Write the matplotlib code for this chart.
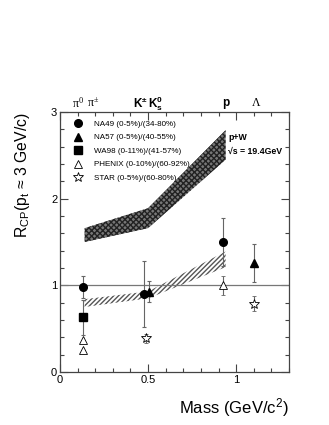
import matplotlib
matplotlib.use("Agg")
import matplotlib.pyplot as plt
from matplotlib.lines import Line2D
from matplotlib.ticker import MultipleLocator

plt.rcParams['font.family'] = ['Liberation Sans', 'DejaVu Sans']
plt.rcParams['mathtext.fontset'] = 'custom'
plt.rcParams['mathtext.rm'] = 'Liberation Sans'
plt.rcParams['mathtext.bf'] = 'Liberation Sans:bold'
plt.rcParams['mathtext.it'] = 'Liberation Sans:italic'
plt.rcParams['mathtext.tt'] = 'Liberation Serif'

# data points: mass, R_CP, error
na49_x = [0.132, 0.475, 0.928]
na49_y = [0.98, 0.90, 1.50]
na49_e = [0.13, 0.38, 0.28]

na57_x = [0.503, 1.10]
na57_y = [0.925, 1.26]
na57_e = [0.12, 0.22]

wa98_x = [0.132]
wa98_y = [0.63]
wa98_e = [0.20]

phenix_x = [0.132, 0.132, 0.928]
phenix_y = [0.37, 0.25, 1.00]
phenix_e = [0.0, 0.0, 0.11]

star_x = [0.486, 1.10]
star_y = [0.39, 0.79]
star_e = [0.05, 0.09]

# bands
pw_x = [0.14, 0.50, 0.94]
pw_lo = [1.50, 1.66, 2.45]
pw_hi = [1.66, 1.89, 2.79]

aa_x = [0.14, 0.50, 0.94]
aa_lo = [0.75, 0.85, 1.21]
aa_hi = [0.84, 0.93, 1.39]

labels = ['NA49 (0-5%)/(34-80%)', 'NA57 (0-5%)/(40-55%)', 'WA98 (0-11%)/(41-57%)',
          'PHENIX (0-10%)/(60-92%)', 'STAR (0-5%)/(60-80%)']

fig = plt.figure(figsize=(3.29, 4.25), dpi=100)
ax = fig.add_axes([0.1824, 0.1247, 0.6960, 0.6118])

ax.fill_between(pw_x, pw_lo, pw_hi, facecolor='#777777', edgecolor='#222222',
                hatch='xxxxxx', linewidth=0)
ax.fill_between(aa_x, aa_lo, aa_hi, facecolor='none', edgecolor='#555555',
                hatch='///////', linewidth=0)
ax.axhline(1.0, color='#777777', lw=0.9)

ekw = dict(ecolor='#666666', elinewidth=0.8, capsize=1.5, capthick=0.8, linestyle='none')
ax.errorbar(wa98_x, wa98_y, yerr=wa98_e, fmt='s', color='black', ms=5.5, **ekw)
ax.errorbar(na49_x, na49_y, yerr=na49_e, fmt='o', color='black', ms=5.5, **ekw)
ax.errorbar(na57_x, na57_y, yerr=na57_e, fmt='^', color='black', ms=5.5, **ekw)
ax.errorbar(phenix_x, phenix_y, yerr=phenix_e, fmt='^', mfc='white', mec='black',
            mew=0.6, ms=6, **ekw)
ax.errorbar(star_x, star_y, yerr=star_e, fmt='*', mfc='white', mec='black',
            mew=0.6, ms=7, **ekw)

ax.set_xlim(0, 1.3)
ax.set_ylim(0, 3)
ax.xaxis.set_minor_locator(MultipleLocator(0.1))
ax.yaxis.set_major_locator(MultipleLocator(1))
ax.yaxis.set_minor_locator(MultipleLocator(0.2))
ax.set_xticks([0, 0.5, 1])
ax.set_xticklabels(['0', '0.5', '1'])
ax.tick_params(which='both', direction='in', top=True, right=True, labelsize=8,
               color='#444444', width=0.8)
ax.tick_params(which='major', length=6, pad=2)
ax.tick_params(which='minor', length=3)
for s in ax.spines.values():
    s.set_color('#444444')
    s.set_linewidth(0.9)

ax.set_ylabel('R$_{\\rm CP}$(p$_{\\rm t}$ \u2248 3 GeV/c)', fontsize=11.3, loc='top', labelpad=14)
ax.set_xlabel('Mass (GeV/c$^{2}$)', fontsize=12, loc='right', labelpad=8)

handles = [
    Line2D([], [], marker='o', color='black', ls='none', ms=5.5),
    Line2D([], [], marker='^', color='black', ls='none', ms=5.5),
    Line2D([], [], marker='s', color='black', ls='none', ms=5.5),
    Line2D([], [], marker='^', mfc='white', mec='black', mew=0.6, ls='none', ms=6),
    Line2D([], [], marker='*', mfc='white', mec='black', mew=0.6, ls='none', ms=7),
]
ax.legend(handles, labels, loc='upper left', bbox_to_anchor=(0.045, 0.98), fontsize=5.8,
          frameon=False, labelspacing=0.72, handlelength=1.0, handletextpad=1.6,
          borderaxespad=0)

ax.text(0.955, 2.71, 'p+W', fontsize=6.3, fontweight='bold', va='center')
ax.text(0.955, 2.55, '\u221as = 19.4GeV', fontsize=6.3, fontweight='bold', va='center')

# particle labels above the frame
ax.text(0.10, 3.1, '$\\mathtt{\\pi^{0}}$', fontsize=8.5, ha='center', va='center')
ax.text(0.19, 3.1, '$\\mathtt{\\pi^{\\pm}}$', fontsize=8.5, ha='center', va='center')
ax.text(0.50, 3.1, '$\\mathbf{K^{\\pm}\\,K^{0}_{s}}$', fontsize=8.5, ha='center', va='center')
ax.text(0.94, 3.1, 'p', fontsize=8.5, fontweight='bold', ha='center', va='center')
ax.text(1.115, 3.1, '$\\mathtt{\\Lambda}$', fontsize=8.5, ha='center', va='center')

fig.savefig('out.png', dpi=100)
